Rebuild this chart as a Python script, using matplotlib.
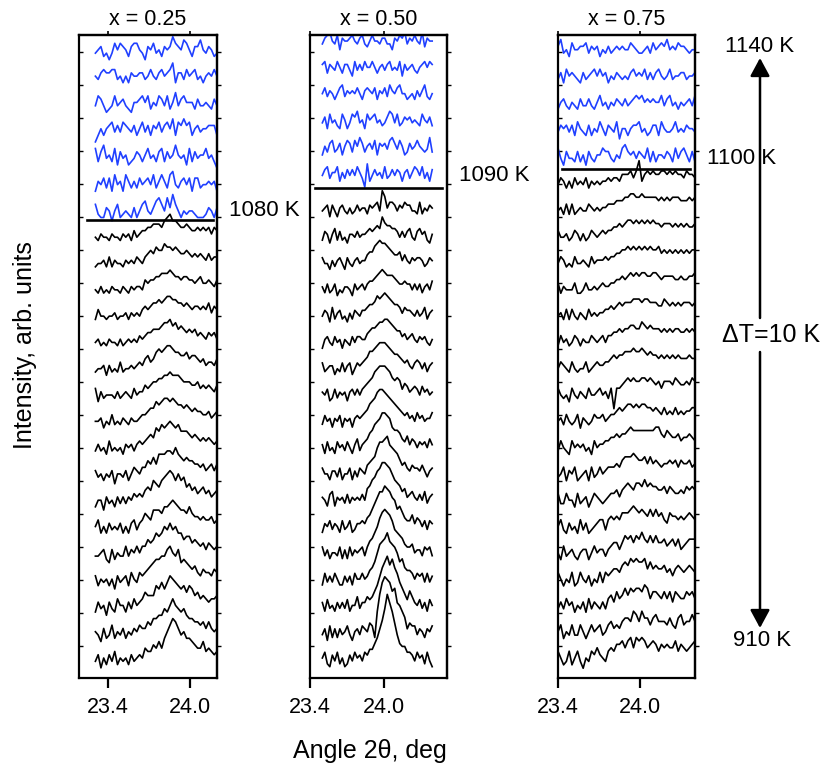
import numpy as np
import matplotlib.pyplot as plt

plt.rcParams['font.family'] = ['Liberation Sans', 'DejaVu Sans']

# scan temperatures, 910 K ... 1140 K in 10 K steps (lowest first)
temps = list(range(910, 1141, 10))
compositions = ['x = 0.25', 'x = 0.50', 'x = 0.75']
onset_K = [1080, 1090, 1100]   # first scan drawn in blue
scan_ranges = [(23.31, 24.20), (23.50, 24.39), (23.40, 24.40)]
x_limits = [(23.19, 24.20), (23.40, 24.51), (23.40, 24.40)]
xtick_vals = [23.4, 24.0]
xtick_labels = ['23.4', '24.0']

# intensity, one base-36 character per point
scans_025 = [
    "35142 53624 34253 45476 68797 acegf dbcaa 98779 67656",  # 910
    "43152 36243 52435 46557 68899 bacec bab98 87767 57545",
    "25341 53264 42536 45687 77a9b 9bdcb a9a8a 97867 65667",
    "52434 24153 45264 36567 89aab bdecb d9a98 78657 66576",
    "33452 15243 36354 64668 78a9a cbdbc aa899 78767 57656",
    "46242 53435 24256 35687 69998 aabcb a998a 87767 66756",
    "24415 34253 53546 56578 7a98a bcdca cab89 78678 67567",
    "53424 35144 35246 54668 797aa abbac a9898 87767 56757",
    "35342 63434 25453 56567 87a9b abcba b9998 78767 67656",
    "44524 36343 54354 45667 88a9a bbaba 99898 78776 67567",  # 1000
    "62534 44353 45436 45576 78899 aabaa a9888 77867 67657",
    "34452 53436 34454 56578 679a9 abba9 98897 88767 56657",
    "45343 54435 34545 46567 78889 aab9a 89878 78676 57675",
    "36443 44534 45354 54676 78898 9aa99 88787 67767 68576",
    "43534 35443 54354 55476 77889 99a98 87887 76786 67657",
    "34453 63544 35454 65467 87988 a9989 87787 67676 57566",
    "43544 35443 54536 45667 78887 9ab99 87787 66767 67576",  # 1070
    "63225 41462 34325 24674 35786 48596 42434 43222 35425",  # 1080
    "25463 62745 27535 36456 47357 53784 35646 26634 45452",
    "73684 53726 45234 65357 45367 36458 54527 36455 74531",
    "13535 67464 76546 35746 36574 67583 76867 35645 56663",
    "47642 34745 64325 56757 35476 47358 46755 53644 54364",
    "54676 67745 35365 56645 75467 56793 66475 67453 56575",
    "45634 24757 65367 75426 57453 65697 65875 36685 46534",  # 1140
]

scans_050 = [
    "46215 36241 25364 53657 79beh lqnkg c9886 65364 52631",  # 910
    "35162 52534 63145 36547 62bhl nmlij edb95 76635 42546",
    "52634 25353 62447 35576 79beh jlikh fca86 97546 35264",
    "26353 64225 35264 46457 8adgh ikhgf dab87 76465 63635",
    "63524 43625 26354 56368 9bdgi jihfc ba976 67455 36563",
    "25463 54263 46235 56578 acegg ihged ab976 68576 46365",
    "54267 25453 63545 46489 bcefh hgfdb a9785 67546 47356",
    "64425 53624 46253 65478 9adff ghedc b9786 57665 75356",
    "52634 26453 64257 35679 acdeg gfeba a9768 57646 56475",
    "36452 54625 45256 5678a bceff edcba 98767 56475 64557",  # 1000
    "54623 63545 25646 46789 acdee edca9 a9687 56764 75645",
    "63455 24363 56246 5678a abcdd dcba9 98767 54676 46356",
    "25643 64525 43646 65578 99abb ccba9 88675 67546 56435",
    "46527 35634 25365 46678 89bab cba98 87576 65464 57356",
    "53634 62435 54264 56467 789ab a9998 76676 64646 35647",
    "64425 35642 64356 45578 8abcb ba987 78575 46566 53465",
    "36525 73634 25546 45567 6787b 98877 64646 74367 56325",
    "45626 42564 35346 45536 5674b 95776 46576 64437 35465",  # 1080
    "46735 57253 64647 53082 46453 73464 65256 35764 73526",  # 1090
    "25367 34625 76375 86356 47265 64786 47523 64575 43483",
    "46274 53275 24768 45275 67453 46874 73465 64543 75463",
    "57465 35784 65657 53676 57365 74865 78553 45364 68435",
    "67365 47536 64274 64755 75356 46745 47264 56435 67576",
    "46785 47265 56754 67435 75546 64426 57684 65754 83655",  # 1140
]

scans_075 = [
    "64236 24631 43657 54367 68897 9a7a9 a9789 86878 77968 76789",  # 910
    "46243 63364 24645 63467 56578 87a97 a8868 97776 86589 67797",
    "35364 52435 26354 35367 58679 79899 8a968 87686 85876 68786",
    "64243 62364 35243 63656 77689 8a9a9 9a797 87786 75787 67876",
    "42634 53245 52464 55356 77579 89798 a8797 97786 78685 67888",
    "46325 34263 52345 66367 67688 89a98 98797 97865 87767 67876",
    "63364 42634 52465 43456 67578 98799 8a898 87786 87667 68787",
    "34625 46234 52634 64566 67689 99a98 89797 87677 87868 77867",
    "36432 64545 34264 55667 78788 9a999 99999 aa879 87786 77876",
    "45364 34625 43465 56456 67878 99898 99887 87686 76867 67788",  # 1000
    "64342 64354 36445 64536 06678 98988 99898 78688 87987 78798",
    "46543 64344 63456 55667 87889 99a99 a9898 87878 78787 77877",
    "36453 46535 44654 56466 77878 89988 a9898 88787 87887 78787",
    "45363 64354 36454 55667 67878 88999 89988 87798 78787 88878",
    "63544 46334 64454 56556 67787 89898 99889 98788 88778 77889",
    "46534 36445 43645 55656 67788 98989 89898 89787 87878 78788",
    "64453 46535 34654 56566 77878 99898 98989 88788 87878 78778",
    "45363 63454 46545 45566 67778 89988 98888 87878 78887 77878",
    "46535 36454 63545 45565 66577 7868b 57878 77887 87877 68776",  # 1090
    "74264 43635 26435 57664 35478 65646 54736 35546 53746 75363",  # 1100
    "46564 63754 36354 75365 47255 35667 45346 63754 45745 46554",
    "35643 54364 46435 74535 46546 45676 75656 55746 74535 45647",
    "46375 65436 45675 75635 46545 46756 57464 67545 74556 64556",
    "68453 75566 74656 35464 56565 57654 45647 56768 56576 65455",  # 1140
]

scans = [scans_025, scans_050, scans_075]

# layout / style
W, H = 824, 770
LEVEL = [0.125, 0.11, 0.13]  # one character step in offset units
BASE = 4                     # typical background character
BLUE = '#2040ff'
ax_left = [79, 310, 558]
ax_width = [138, 137, 137]
blue_lift = [0.0, 0.35, 0.0]
sep_off = [0.11, 0.31, 0.04]
sep_x = [(0.06, 0.97), (0.04, 0.96), (0.03, 0.96)]
yticks = np.linspace(0.90, 23.48, 19)

fig = plt.figure(figsize=(W / 100, H / 100), dpi=100)

for k in range(3):
    ax = fig.add_axes([ax_left[k] / W, 92 / H, ax_width[k] / W, 643 / H])
    lev = LEVEL[k]
    shift = BASE * (0.11 - lev)   # keep the background at the same height
    for i, (T, s) in enumerate(zip(temps, scans[k])):
        v = np.array([int(c, 36) for c in s.replace(' ', '')])
        x = np.linspace(scan_ranges[k][0], scan_ranges[k][1], len(v))
        blue = T >= onset_K[k]
        y = i + shift + v * lev + (blue_lift[k] if blue else 0.0)
        ax.plot(x, y, color=BLUE if blue else 'black', lw=1.2)

    i0 = temps.index(onset_K[k])
    ax.axhline(i0 + sep_off[k], xmin=sep_x[k][0], xmax=sep_x[k][1],
               color='black', lw=1.9)
    ax.text(1.085, i0 + blue_lift[k] + BASE * 0.11, f'{onset_K[k]} K',
            transform=ax.get_yaxis_transform(), ha='left', va='center',
            fontsize=16)
    ax.text(0.5, 1.016, compositions[k], transform=ax.transAxes,
            ha='center', va='baseline', fontsize=15.5)

    ax.set_xlim(*x_limits[k])
    ax.set_ylim(-0.32, 24.13)
    ax.set_xticks(xtick_vals, xtick_labels)
    ax.set_yticks(yticks)
    ax.tick_params(axis='x', direction='out', length=7.5, width=1.6,
                   labelsize=15.5, pad=6)
    ax.tick_params(axis='y', direction='in', length=3, width=1,
                   labelleft=False)
    for sp in ax.spines.values():
        sp.set_linewidth(1.6)

    sy = ax.secondary_yaxis('right')
    sy.set_yticks(yticks)
    sy.tick_params(direction='out', length=3, width=1, labelright=False)
    sy.spines['right'].set_linewidth(1.6)
    sx = ax.secondary_xaxis('top')
    sx.set_xticks(xtick_vals)
    sx.tick_params(direction='out', length=3, width=1.2, labeltop=False)
    sx.spines['top'].set_linewidth(1.6)

# overlay in pixel coordinates for the shared labels and the arrow
ov = fig.add_axes([0, 0, 1, 1])
ov.set_xlim(0, W)
ov.set_ylim(H, 0)
ov.axis('off')

ov.text(25, 345, 'Intensity, arb. units', rotation=90, ha='center',
        va='center', fontsize=18)
ov.text(370, 758, 'Angle 2\u03b8, deg', ha='center', va='baseline',
        fontsize=18)

arrow = dict(arrowstyle='-|>,head_length=0.5,head_width=0.27', lw=1.8,
             color='black', mutation_scale=22, shrinkA=0, shrinkB=0)
ov.annotate('', xy=(760, 58), xytext=(760, 318), arrowprops=arrow)
ov.annotate('', xy=(760, 628), xytext=(760, 352), arrowprops=arrow)
ov.text(725, 47, '1140 K', ha='left', va='center', fontsize=16)
ov.text(733, 641, '910 K', ha='left', va='center', fontsize=16)
ov.text(722, 335, '\u0394T=10 K', ha='left', va='center', fontsize=18)

fig.savefig('out.png', dpi=100)
